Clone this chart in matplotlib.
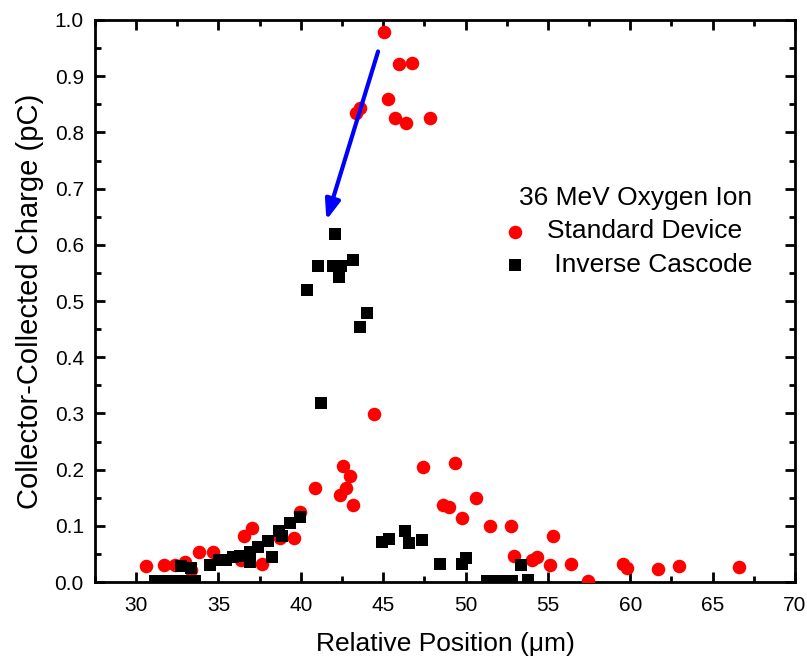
import matplotlib
matplotlib.use('Agg')
import matplotlib.pyplot as plt
from matplotlib.ticker import MultipleLocator

plt.rcParams['font.family'] = ['Liberation Sans', 'DejaVu Sans']

# Standard Device (red circles)
std_x = [45.05, 45.95, 46.78, 45.3, 43.37, 43.6, 45.74, 46.37, 47.83,
         30.6, 31.72, 32.33, 32.98, 33.34, 33.8, 34.66, 36.38, 36.55, 37.05,
         37.64, 38.71, 39.58, 39.97, 40.84, 42.36, 42.56, 42.97, 42.72, 43.17,
         44.45, 47.42, 49.35, 48.64, 48.99, 50.63, 49.76, 51.48, 52.75, 55.29,
         52.96, 54.05, 54.32, 55.12, 56.38, 57.45, 59.54, 59.79, 61.71, 62.99, 66.6]
std_y = [0.978, 0.921, 0.924, 0.859, 0.835, 0.843, 0.825, 0.817, 0.826,
         0.029, 0.030, 0.030, 0.036, 0.021, 0.054, 0.054, 0.039, 0.082, 0.096,
         0.033, 0.078, 0.079, 0.124, 0.168, 0.155, 0.206, 0.189, 0.168, 0.138,
         0.299, 0.205, 0.212, 0.137, 0.134, 0.149, 0.114, 0.100, 0.100, 0.082,
         0.047, 0.040, 0.044, 0.030, 0.032, 0.002, 0.033, 0.026, 0.024, 0.029, 0.027]

# Inverse Cascode (black squares)
inv_x = [42.1, 41.04, 41.95, 42.46, 42.32, 43.17, 40.37, 44.02, 43.62, 41.25,
         39.97, 39.32, 38.67, 38.87, 38.0, 37.39, 38.27, 36.9, 36.28, 35.87,
         35.47, 35.06, 34.46, 36.93, 32.73, 33.34,
         31.15, 31.8, 32.4, 33.0, 33.6,
         44.9, 45.34, 46.35, 46.55, 47.36, 48.48, 49.76, 50.0,
         51.28, 51.88, 52.49, 52.8, 53.36, 53.81]
inv_y = [0.619, 0.563, 0.563, 0.563, 0.543, 0.573, 0.520, 0.478, 0.454, 0.319,
         0.116, 0.106, 0.091, 0.082, 0.073, 0.063, 0.045, 0.054, 0.046, 0.045,
         0.040, 0.039, 0.030, 0.036, 0.028, 0.026,
         0.002, 0.002, 0.002, 0.002, 0.002,
         0.072, 0.076, 0.091, 0.069, 0.075, 0.033, 0.033, 0.043,
         0.002, 0.002, 0.002, 0.002, 0.030, 0.004]

# arrow (tail -> head) in data coords
arrow_tail = (44.69, 0.944)
arrow_head = (41.55, 0.644)

fig = plt.figure(figsize=(8.07, 6.6), dpi=100)
ax = fig.add_axes([0.1177, 0.118, 0.8673, 0.8517])

ax.scatter(std_x, std_y, s=95, marker='o', color='#ff0000', linewidths=0,
           label='Standard Device', zorder=3)
ax.scatter(inv_x, inv_y, s=75, marker='s', color='black', linewidths=0,
           label=' Inverse Cascode', zorder=3)

ax.annotate('', xy=arrow_head, xytext=arrow_tail,
            arrowprops=dict(arrowstyle='-|>,head_length=1.2,head_width=0.45',
                            color='#0000ff', lw=3, shrinkA=0, shrinkB=0),
            zorder=4)

ax.set_xlim(27.5, 70)
ax.set_ylim(0, 1.0)
ax.xaxis.set_major_locator(MultipleLocator(5))
ax.xaxis.set_minor_locator(MultipleLocator(2.5))
ax.yaxis.set_major_locator(MultipleLocator(0.1))
ax.yaxis.set_minor_locator(MultipleLocator(0.05))
ax.yaxis.set_major_formatter(plt.FuncFormatter(lambda v, p: f'{v:.1f}'))

ax.tick_params(which='both', direction='in', top=True, right=True, width=2,
               labelsize=15)
ax.tick_params(which='major', length=7.5)
ax.tick_params(axis='x', which='major', pad=10)
ax.tick_params(axis='y', which='major', pad=8)
ax.tick_params(which='minor', length=4.5)
for sp in ax.spines.values():
    sp.set_linewidth(2)

ax.set_xlabel('Relative Position (\u03bcm)', fontsize=19, labelpad=12)
ax.set_ylabel('Collector-Collected Charge (pC)', fontsize=21, labelpad=8)

leg = ax.legend(title='36 MeV Oxygen Ion', frameon=False, fontsize=19,
                title_fontsize=19, loc='upper left', scatterpoints=1,
                bbox_to_anchor=(0.572, 0.717), handlelength=1.0,
                handletextpad=0.7, labelspacing=0.37, borderaxespad=0,
                borderpad=0.25, alignment='right')

plt.savefig('out.png', dpi=100)
